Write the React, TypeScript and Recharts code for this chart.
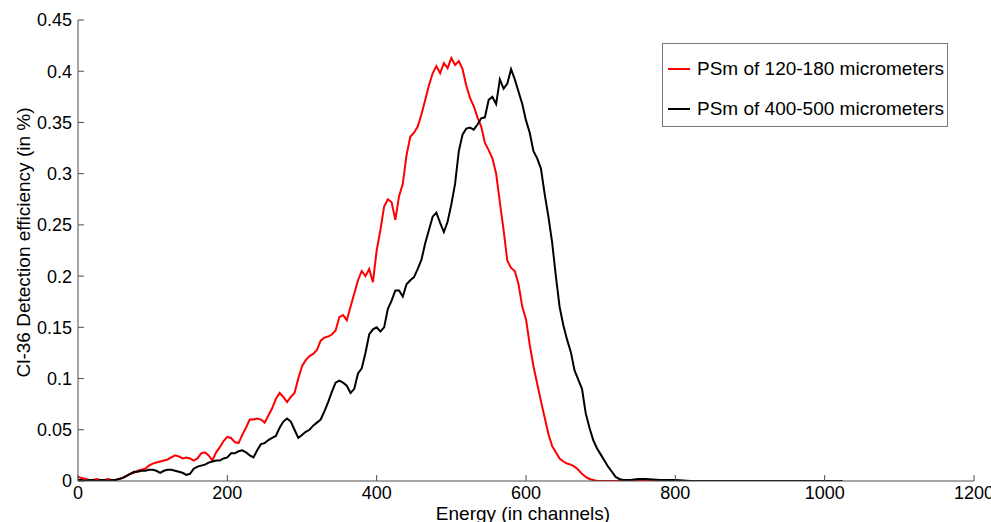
import { LineChart, Line, XAxis, YAxis, Legend } from 'recharts';

const FONT = '"Liberation Sans", Arial, sans-serif';
const AXIS_COLOR = '#4d4d4d';
const TICK_LEN = 6;
const X_GAP = 5;
const Y_GAP = 6;

// channel grid: every 5 channels up to 720, then sparser along the flat tail
const CHANNELS = [
  ...Array.from({ length: 145 }, (_, i) => i * 5),
  725, 730, 740, 750, 760, 780, 800, 820, 850, 900, 950, 1000, 1024,
];

const SMALL_PSM = [
  0.004, 0.003, 0.002, 0.001, 0.001, 0.002, 0.001, 0.001, 0.002, 0.001,
  0.001, 0.002, 0.003, 0.005, 0.007, 0.008, 0.010, 0.011, 0.012, 0.015,
  0.017, 0.018, 0.019, 0.020, 0.021, 0.023, 0.025, 0.024, 0.022, 0.023,
  0.022, 0.020, 0.022, 0.027, 0.028, 0.025, 0.020, 0.028, 0.033, 0.039,
  0.043, 0.042, 0.038, 0.037, 0.045, 0.052, 0.060, 0.060, 0.061, 0.060,
  0.057, 0.064, 0.071, 0.080, 0.086, 0.082, 0.077, 0.082, 0.086, 0.100,
  0.112, 0.118, 0.122, 0.124, 0.128, 0.137, 0.140, 0.141, 0.143, 0.147,
  0.160, 0.162, 0.157, 0.170, 0.183, 0.196, 0.205, 0.200, 0.207, 0.194,
  0.225, 0.245, 0.268, 0.275, 0.272, 0.255, 0.278, 0.290, 0.318, 0.336,
  0.340, 0.346, 0.358, 0.372, 0.386, 0.398, 0.405, 0.398, 0.408, 0.403,
  0.413, 0.406, 0.410, 0.402, 0.386, 0.374, 0.366, 0.355, 0.346, 0.330,
  0.323, 0.315, 0.300, 0.272, 0.245, 0.215, 0.208, 0.205, 0.192, 0.170,
  0.158, 0.133, 0.112, 0.095, 0.078, 0.062, 0.046, 0.034, 0.028, 0.022,
  0.019, 0.017, 0.016, 0.014, 0.011, 0.007, 0.004, 0.002, 0.001, 0,
  0, 0, 0, 0, 0,
  0, 0, 0, 0, 0, 0, 0, 0, null, null, null, null, null,
];

const LARGE_PSM = [
  0.001, 0.001, 0.000, 0.001, 0.001, 0.000, 0.001, 0.001, 0.000, 0.001,
  0.001, 0.002, 0.003, 0.005, 0.007, 0.009, 0.009, 0.010, 0.010, 0.011,
  0.011, 0.010, 0.008, 0.010, 0.011, 0.011, 0.010, 0.009, 0.008, 0.006,
  0.007, 0.012, 0.014, 0.015, 0.016, 0.018, 0.019, 0.020, 0.020, 0.022,
  0.023, 0.027, 0.027, 0.029, 0.030, 0.028, 0.025, 0.023, 0.030, 0.036,
  0.037, 0.040, 0.042, 0.044, 0.052, 0.058, 0.061, 0.058, 0.050, 0.042,
  0.045, 0.048, 0.050, 0.054, 0.057, 0.060, 0.068, 0.077, 0.087, 0.096,
  0.098, 0.096, 0.093, 0.086, 0.090, 0.105, 0.110, 0.125, 0.143, 0.148,
  0.150, 0.146, 0.150, 0.168, 0.176, 0.186, 0.186, 0.180, 0.192, 0.196,
  0.199, 0.207, 0.216, 0.232, 0.245, 0.258, 0.262, 0.252, 0.243, 0.253,
  0.270, 0.290, 0.322, 0.338, 0.344, 0.345, 0.343, 0.348, 0.354, 0.355,
  0.372, 0.375, 0.368, 0.392, 0.383, 0.388, 0.402, 0.392, 0.380, 0.368,
  0.352, 0.340, 0.322, 0.315, 0.305, 0.280, 0.258, 0.233, 0.200, 0.170,
  0.152, 0.138, 0.126, 0.108, 0.099, 0.090, 0.066, 0.052, 0.040, 0.032,
  0.026, 0.020, 0.014, 0.009, 0.004,
  0.002, 0.001, 0.001, 0.002, 0.002, 0.001, 0.001, 0, 0, 0, 0, 0, 0,
];

const X_TICKS = [0, 200, 400, 600, 800, 1000, 1200];
const Y_TICKS = [0, 0.05, 0.1, 0.15, 0.2, 0.25, 0.3, 0.35, 0.4, 0.45];

const data = CHANNELS.map((ch, i) => ({ ch, small: SMALL_PSM[i], large: LARGE_PSM[i] }));

function BottomTick({ x, y, payload }: any) {
  const axisY = y - X_GAP;
  return (
    <g>
      <line x1={x} x2={x} y1={axisY} y2={axisY - TICK_LEN} stroke={AXIS_COLOR} />
      <text x={x} y={y} dy="0.71em" textAnchor="middle" fontSize={18} fontFamily={FONT} fill="#000">
        {payload.value}
      </text>
    </g>
  );
}

function LeftTick({ x, y, payload }: any) {
  const axisX = x + Y_GAP;
  return (
    <g>
      <line x1={axisX} x2={axisX + TICK_LEN} y1={y} y2={y} stroke={AXIS_COLOR} />
      <text x={x} y={y} dy="0.355em" textAnchor="end" fontSize={18} fontFamily={FONT} fill="#000">
        {payload.value}
      </text>
    </g>
  );
}

function TopTick({ x, y }: any) {
  return <line x1={x} x2={x} y1={y} y2={y + TICK_LEN} stroke={AXIS_COLOR} />;
}

function RightTick({ x, y }: any) {
  return <line x1={x} x2={x - TICK_LEN} y1={y} y2={y} stroke={AXIS_COLOR} />;
}

function XLabel({ viewBox }: any) {
  const { x, y, width } = viewBox;
  return (
    <text x={x + width / 2 - 3} y={y + 39} textAnchor="middle" fontSize={19} fontFamily={FONT} fill="#000">
      Energy (in channels)
    </text>
  );
}

function YLabel({ viewBox }: any) {
  const { x, y, height } = viewBox;
  const cx = x + 5;
  const cy = y + height / 2 - 8;
  return (
    <text x={cx} y={cy} transform={`rotate(-90, ${cx}, ${cy})`} dy="0.355em" textAnchor="middle" fontSize={19} fontFamily={FONT} fill="#000">
      Cl-36 Detection efficiency (in %)
    </text>
  );
}

function LegendBox({ payload }: any) {
  return (
    <div
      style={{
        boxSizing: 'border-box',
        width: 286,
        height: 84,
        border: '1px solid #777',
        background: '#fff',
        paddingTop: 5,
        fontFamily: FONT,
        fontSize: 19,
        color: '#000',
      }}
    >
      {(payload || []).map((p: any) => (
        <div key={p.value} style={{ display: 'flex', alignItems: 'center', height: 40 }}>
          <svg width={34} height={10}>
            <line x1={5} x2={27} y1={5} y2={5} stroke={p.color} strokeWidth={2} />
          </svg>
          <span style={{ whiteSpace: 'nowrap' }}>{p.value}</span>
        </div>
      ))}
    </div>
  );
}

export default function App() {
  return (
    <div style={{ position: 'absolute', left: 0, top: 0, background: '#fff' }}>
      <LineChart width={991} height={522} data={data} margin={{ top: 20, right: 17, bottom: 11, left: 18 }}>
        <XAxis
          dataKey="ch"
          type="number"
          domain={[0, 1200]}
          ticks={X_TICKS}
          interval={0}
          height={30}
          tickSize={0}
          tickMargin={X_GAP}
          tickLine={false}
          axisLine={{ stroke: AXIS_COLOR }}
          tick={<BottomTick />}
          label={{ content: XLabel }}
          allowDataOverflow
        />
        <XAxis
          xAxisId="top"
          orientation="top"
          dataKey="ch"
          type="number"
          domain={[0, 1200]}
          ticks={X_TICKS}
          interval={0}
          height={0}
          tickSize={0}
          tickMargin={0}
          tickLine={false}
          axisLine={{ stroke: AXIS_COLOR }}
          tick={<TopTick />}
          allowDataOverflow
        />
        <YAxis
          type="number"
          domain={[0, 0.45]}
          ticks={Y_TICKS}
          interval={0}
          width={60}
          tickSize={0}
          tickMargin={Y_GAP}
          tickLine={false}
          axisLine={{ stroke: AXIS_COLOR }}
          tick={<LeftTick />}
          label={{ content: YLabel }}
          allowDataOverflow
        />
        <YAxis
          yAxisId="right"
          orientation="right"
          type="number"
          domain={[0, 0.45]}
          ticks={Y_TICKS}
          interval={0}
          width={0}
          tickSize={0}
          tickMargin={0}
          tickLine={false}
          axisLine={{ stroke: AXIS_COLOR }}
          tick={<RightTick />}
          allowDataOverflow
        />
        <Legend
          layout="horizontal"
          verticalAlign="middle"
          align="center"
          content={<LegendBox />}
          wrapperStyle={{ top: 43, left: 662, width: 286, height: 84 }}
        />
        <Line
          name="PSm of 120-180 micrometers"
          dataKey="small"
          stroke="#ff0000"
          strokeWidth={2}
          dot={false}
          type="linear"
          isAnimationActive={false}
        />
        <Line
          name="PSm of 400-500 micrometers"
          dataKey="large"
          stroke="#000000"
          strokeWidth={2}
          dot={false}
          type="linear"
          isAnimationActive={false}
        />
      </LineChart>
    </div>
  );
}
